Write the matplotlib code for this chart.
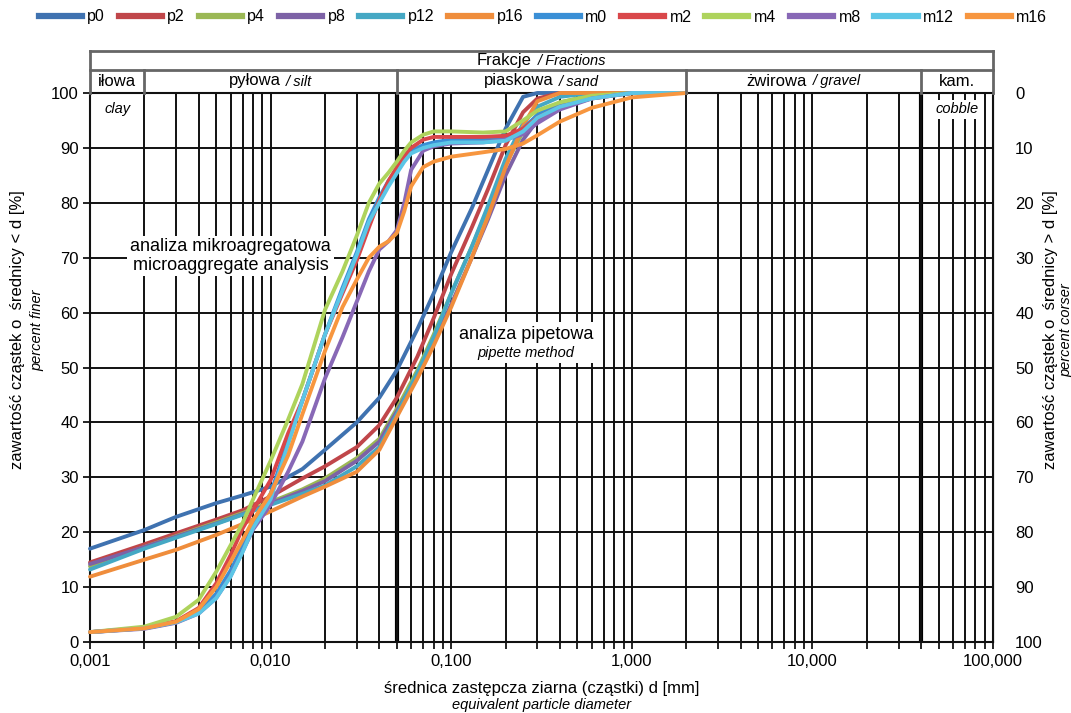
import numpy as np
import matplotlib
matplotlib.use("Agg")
import matplotlib.pyplot as plt
from matplotlib.lines import Line2D
from matplotlib.ticker import LogLocator, FuncFormatter, NullFormatter
from matplotlib.offsetbox import TextArea, HPacker, VPacker, AnnotationBbox

plt.rcParams['font.family'] = ['Liberation Sans', 'DejaVu Sans']

# krzywe uziarnienia - analiza pipetowa (p) i mikroagregatowa (m)
D_PIPETTE = [0.001, 0.002, 0.003, 0.005, 0.007, 0.01, 0.015, 0.02, 0.03, 0.04, 0.05,
             0.065, 0.08, 0.1, 0.13, 0.16, 0.2, 0.25, 0.3, 0.4, 0.6, 1.0, 2.0]
p0 = [17.0, 20.4, 22.8, 25.3, 26.7, 28.3, 31.5, 35.0, 40.0, 44.5, 49.5,
      57.0, 63.5, 71.0, 79.0, 86.0, 93.5, 99.3, 100, 100, 100, 100, 100]
p2 = [14.5, 17.8, 19.8, 22.3, 24.0, 26.5, 29.8, 32.0, 35.5, 39.5, 44.5,
      52.0, 59.0, 67.0, 75.5, 82.5, 90.5, 96.5, 99.0, 100, 100, 100, 100]
p4 = [13.8, 17.3, 19.3, 21.8, 23.5, 25.5, 27.8, 29.8, 33.5, 37.0, 42.5,
      49.5, 56.0, 63.5, 72.0, 79.0, 87.0, 93.0, 96.0, 98.3, 99.6, 100, 100]
p8 = [14.2, 17.3, 19.2, 21.6, 23.3, 25.2, 27.5, 29.3, 33.0, 36.5, 42.0,
      48.5, 54.5, 61.5, 70.0, 77.0, 85.0, 91.5, 95.0, 97.8, 99.4, 100, 100]
p12 = [13.2, 17.0, 19.0, 21.5, 23.2, 25.0, 27.0, 28.5, 32.0, 35.5, 41.5,
       49.0, 55.5, 63.5, 72.0, 79.5, 88.0, 94.5, 97.5, 99.3, 100, 100, 100]
p16 = [11.9, 15.0, 16.8, 19.5, 21.5, 23.8, 26.5, 28.3, 31.0, 35.0, 41.0,
       48.0, 54.0, 61.0, 70.0, 77.5, 86.5, 94.0, 98.5, 100, 100, 100, 100]

D_MICRO = [0.001, 0.002, 0.003, 0.004, 0.005, 0.006, 0.007, 0.008, 0.01, 0.0125,
           0.015, 0.02, 0.025, 0.03, 0.035, 0.04, 0.045, 0.05, 0.055, 0.06, 0.07,
           0.08, 0.1, 0.15, 0.2, 0.25, 0.3, 0.4, 0.6, 1.0, 2.0]
m0 = [1.8, 2.5, 3.6, 5.5, 8.8, 13.0, 17.5, 21.5, 27.0, 36.5, 44.0, 56.0, 64.5, 71.0,
      77.0, 81.0, 84.0, 86.0, 88.0, 89.5, 90.5, 91.0, 91.5, 91.5, 91.8, 93.5, 96.0,
      98.0, 99.3, 100, 100]
m2 = [1.8, 2.6, 3.8, 6.2, 10.7, 15.8, 20.7, 24.0, 29.5, 38.0, 44.0, 56.0, 63.5, 69.5,
      75.5, 80.5, 84.0, 86.5, 88.5, 90.0, 91.5, 92.0, 92.0, 92.0, 92.2, 93.5, 95.5,
      97.5, 99.0, 100, 100]
m4 = [1.8, 2.8, 4.6, 7.7, 12.8, 17.6, 21.7, 26.0, 33.0, 40.5, 47.0, 60.5, 67.5, 74.0,
      80.0, 83.5, 85.5, 87.5, 89.5, 91.0, 92.4, 93.0, 93.0, 92.8, 93.0, 95.0, 96.8,
      98.3, 99.5, 100, 100]
m8 = [1.8, 2.4, 3.5, 5.2, 8.0, 12.0, 16.5, 20.5, 25.0, 31.0, 36.5, 48.0, 55.5, 62.0,
      67.5, 71.5, 73.0, 75.0, 80.0, 86.0, 89.5, 90.3, 90.8, 91.0, 91.5, 92.5, 94.5,
      97.0, 99.0, 100, 100]
m12 = [1.8, 2.5, 3.6, 5.2, 8.0, 11.9, 16.4, 20.8, 26.0, 36.0, 44.0, 56.0, 64.0, 70.5,
       76.5, 80.0, 83.0, 85.4, 87.5, 89.0, 90.0, 90.5, 91.0, 91.0, 91.3, 93.0, 95.5,
       97.5, 99.0, 100, 100]
m16 = [1.8, 2.5, 3.7, 6.0, 10.0, 14.6, 18.6, 22.2, 27.0, 34.0, 41.5, 53.0, 61.0, 66.0,
       70.0, 72.0, 73.0, 74.5, 78.5, 83.0, 86.5, 87.5, 88.4, 89.2, 89.8, 90.8, 92.3,
       94.8, 97.3, 99.2, 100]

NAMES_P = ['p0', 'p2', 'p4', 'p8', 'p12', 'p16']
NAMES_M = ['m0', 'm2', 'm4', 'm8', 'm12', 'm16']
COLORS_P = ['#3f72b0', '#c0464a', '#9bb855', '#7d62a6', '#45a8c4', '#ef8d3c']
COLORS_M = ['#3a8fd6', '#d9474a', '#aed35c', '#8868b6', '#5cc6e6', '#f7963f']

# granice frakcji [mm]
BOUNDS = [0.001, 0.002, 0.05, 2.0, 40.0, 100.0]
FRACTIONS_PL = ['iłowa', 'pyłowa', 'piaskowa', 'żwirowa', 'kam.']
FRACTIONS_EN = ['clay', 'silt', 'sand', 'gravel', 'cobble']

W, H = 1071, 713
FS = 12
FS_SUB = 10.5


def box(x0, y0, x1, y1):
    return [x0 / W, 1 - y1 / H, (x1 - x0) / W, (y1 - y0) / H]


def pair_label(axh, x, y, main, sub, size=FS, subsize=FS_SUB):
    parts = [TextArea(main, textprops=dict(size=size)),
             TextArea('/ ' + sub, textprops=dict(size=subsize, style='italic'))]
    pack = HPacker(children=parts, align='baseline', pad=0, sep=4)
    ab = AnnotationBbox(pack, (x, y), xycoords='data', frameon=False,
                        box_alignment=(0.5, 0.5), pad=0, annotation_clip=False)
    axh.add_artist(ab)


fig = plt.figure(figsize=(W / 100, H / 100), dpi=100)
ax = fig.add_axes(box(90, 93, 993, 642))
ax.set_xscale('log')
ax.set_xlim(1e-3, 1e2)
ax.set_ylim(0, 100)

ax.xaxis.set_major_locator(LogLocator(base=10, numticks=10))
ax.xaxis.set_minor_locator(LogLocator(base=10, subs=np.arange(2, 10), numticks=100))
ax.xaxis.set_minor_formatter(NullFormatter())
ax.xaxis.set_major_formatter(FuncFormatter(lambda v, p: f"{v:.3f}".replace('.', ',')))
ax.set_yticks(range(0, 101, 10))
ax.grid(which='both', axis='x', color='#111111', lw=1.4)
ax.grid(which='major', axis='y', color='#111111', lw=1.4)
for d in (0.05, 40):
    ax.axvline(d, color='black', lw=3.0, zorder=1.5)
ax.tick_params(axis='x', which='both', direction='out', length=5, width=1.2,
               labelsize=FS, pad=4)
ax.tick_params(axis='y', direction='out', length=5, width=1.2, labelsize=FS, pad=3)
for s in ax.spines.values():
    s.set_linewidth(1.5)
    s.set_color('#111111')

right = ax.secondary_yaxis('right', functions=(lambda y: 100 - y, lambda y: 100 - y))
right.set_yticks(range(0, 101, 10))
right.tick_params(length=0, labelsize=FS, pad=16)

handles = []
for d_arr, series, names, colors in [
        (D_PIPETTE, [p0, p2, p4, p8, p12, p16], NAMES_P, COLORS_P),
        (D_MICRO, [m0, m2, m4, m8, m12, m16], NAMES_M, COLORS_M)]:
    for vals, name, c in zip(series, names, colors):
        ax.plot(d_arr, vals, color=c, lw=2.8, solid_joinstyle='round',
                solid_capstyle='round', zorder=3, clip_on=False)
        handles.append(Line2D([], [], color=c, lw=4.5, label=name))

fig.legend(handles=handles, loc='center', bbox_to_anchor=(543 / W, 1 - 17 / H),
           ncol=12, frameon=False, handlelength=2.7, handletextpad=0.35,
           columnspacing=0.85, fontsize=11.5)

# nagłówek z frakcjami
hx = fig.add_axes(box(90, 51, 993, 93))
hx.set_xscale('log')
hx.set_xlim(1e-3, 1e2)
hx.set_ylim(0, 42)
hx.axis('off')
hdr = dict(color='#666666', lw=2, clip_on=False, solid_capstyle='projecting')
hx.plot([1e-3, 1e2], [42, 42], **hdr)
hx.plot([1e-3, 1e2], [23, 23], **hdr)
hx.plot([1e-3, 1e-3], [0, 42], **hdr)
hx.plot([1e2, 1e2], [0, 42], **hdr)
for b in BOUNDS[1:-1]:
    hx.plot([b, b], [0, 23], **hdr)

pair_label(hx, np.sqrt(1e-3 * 1e2), 32.5, 'Frakcje', 'Fractions')
for i, (pl, en) in enumerate(zip(FRACTIONS_PL, FRACTIONS_EN)):
    xc = np.sqrt(BOUNDS[i] * BOUNDS[i + 1])
    if en in ('clay', 'cobble'):
        hx.text(xc, 12, pl, ha='center', va='center', size=FS)
        ax.text(xc, 97.0, en, ha='center', va='center', size=FS_SUB, style='italic',
                zorder=6, bbox=dict(fc='white', ec='none', pad=1.5))
    else:
        pair_label(hx, xc, 12, pl, en)

ax.text(0.006, 70.3, 'analiza mikroagregatowa\nmicroaggregate analysis',
        ha='center', va='center', size=13, linespacing=1.1, zorder=6,
        bbox=dict(fc='white', ec='none', pad=2))
pip = VPacker(children=[TextArea('analiza pipetowa', textprops=dict(size=13)),
                        TextArea('pipette method', textprops=dict(size=FS_SUB, style='italic'))],
              align='center', pad=0, sep=2)
ab = AnnotationBbox(pip, (0.26, 54.5), xycoords='data', box_alignment=(0.5, 0.5),
                    pad=0.25, bboxprops=dict(fc='white', ec='none'), zorder=6)
ax.add_artist(ab)

# opisy osi
fig.text(18 / W, 1 - 330 / H, 'zawartość cząstek o  średnicy < d [%]',
         rotation=90, ha='center', va='center', size=FS)
fig.text(37 / W, 1 - 330 / H, 'percent finer', rotation=90, ha='center',
         va='center', size=FS_SUB, style='italic')
fig.text(1050 / W, 1 - 330 / H, 'zawartość cząstek o  średnicy > d [%]',
         rotation=90, ha='center', va='center', size=FS)
fig.text(1066 / W, 1 - 330 / H, 'percent corser', rotation=90, ha='center',
         va='center', size=FS_SUB, style='italic')
fig.text(542 / W, 1 - 688 / H, 'średnica zastępcza ziarna (cząstki) d [mm]',
         ha='center', va='center', size=FS)
fig.text(542 / W, 1 - 705 / H, 'equivalent particle diameter', ha='center',
         va='center', size=FS_SUB, style='italic')

fig.savefig('out.png', dpi=100)
